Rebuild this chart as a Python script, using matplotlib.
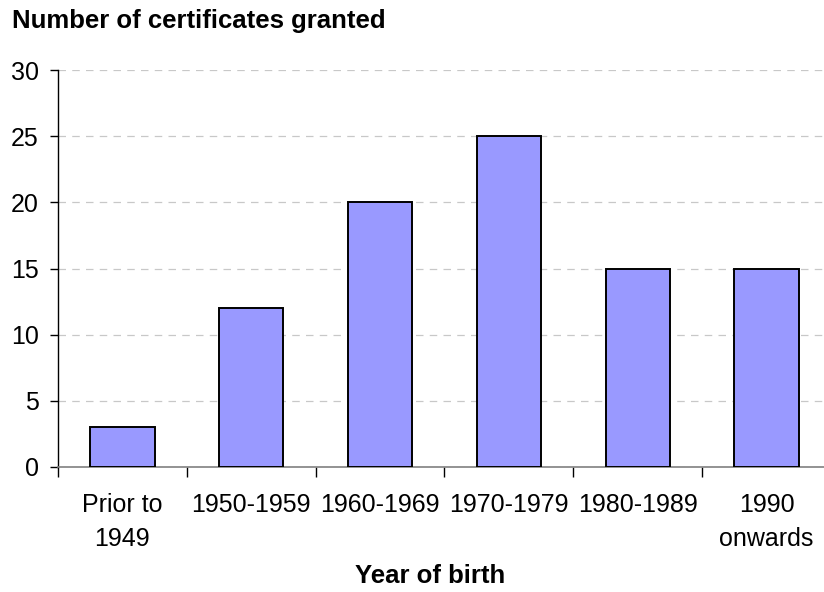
import numpy as np
import matplotlib
matplotlib.use("Agg")
import matplotlib.pyplot as plt
from matplotlib.ticker import FixedLocator

plt.rcParams['font.family'] = ['Liberation Sans', 'DejaVu Sans']

# data
categories = ['Prior to\n1949', '1950-1959', '1960-1969', '1970-1979', '1980-1989', '1990\nonwards']
counts = [3, 12, 20, 25, 15, 15]

fig = plt.figure(figsize=(8.24, 5.92), dpi=100)
# plot area runs past the right edge, as in the original
ax = fig.add_axes([58 / 824, 125 / 592, 773 / 824, 397 / 592])

x = np.arange(len(categories))
ax.bar(x, counts, width=0.5, color='#9999FF', edgecolor='black', linewidth=1.4, zorder=3)

ax.set_xlim(-0.5, len(categories) - 0.5)
ax.set_ylim(0, 30)
ax.set_yticks(range(0, 31, 5))

# labels at category centres, tick marks at category edges
ax.set_xticks(x)
ax.set_xticklabels(categories, linespacing=1.5)
ax.xaxis.set_minor_locator(FixedLocator(np.arange(-0.5, len(categories), 1.0)))
ax.tick_params(axis='x', which='major', length=0, pad=19, labelsize=18)
ax.tick_params(axis='x', which='minor', length=7, width=1, color='black', direction='out')
ax.tick_params(axis='y', length=6, width=1, color='black', pad=8, labelsize=18, direction='out')

ax.yaxis.grid(True, linestyle=(0, (6, 5)), color='#C8C8C8', linewidth=0.9, zorder=0)
ax.set_axisbelow(True)

for s in ['top', 'right']:
    ax.spines[s].set_visible(False)
ax.spines['bottom'].set_color('#808080')
ax.spines['bottom'].set_linewidth(1.2)
ax.spines['left'].set_color('black')
ax.spines['left'].set_linewidth(1)

fig.text(12 / 824, 1 - 21 / 592, 'Number of certificates granted', fontsize=18.5,
         fontweight='bold', ha='left', va='center')
fig.text(430 / 824, 1 - 576 / 592, 'Year of birth', fontsize=18.5,
         fontweight='bold', ha='center', va='center')

fig.savefig('out.png', dpi=100)
